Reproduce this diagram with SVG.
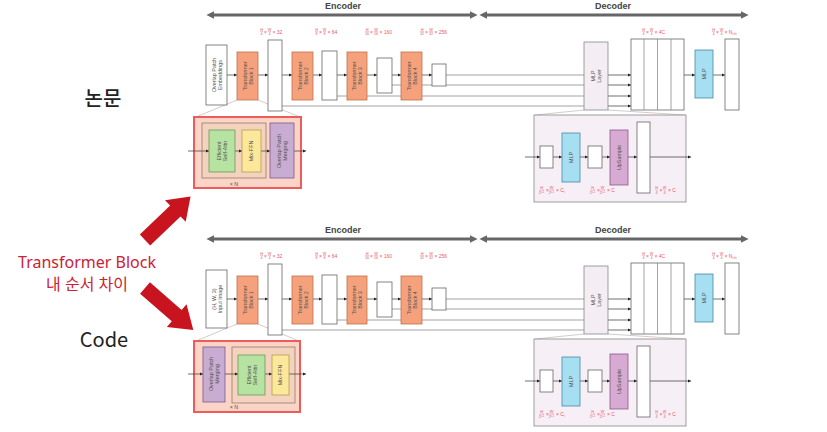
<svg xmlns="http://www.w3.org/2000/svg" width="827" height="432" viewBox="0 0 827 432">
<defs>
<style>
.bx{fill:#fff;stroke:#666;stroke-width:0.8}
.tb{fill:#f5a27c;stroke:#c0714c;stroke-width:0.8}
.ml{fill:#f4eef4;stroke:#888;stroke-width:0.8}
.mlp{fill:#a6def2;stroke:#4a8aa0;stroke-width:0.8}
.up{fill:#d6aad2;stroke:#8a5a8a;stroke-width:0.8}
.grn{fill:#b6e3a2;stroke:#6a9a5a;stroke-width:0.8}
.yel{fill:#fde79a;stroke:#b0a050;stroke-width:0.8}
.pur{fill:#c8acd2;stroke:#7a5a8a;stroke-width:0.8}
.inn{fill:#f3d3bd;stroke:#9a7a6a;stroke-width:0.8}
.red{fill:#fad4c6;stroke:#ef5a5a;stroke-width:2}
.dec{fill:#f7eff6;stroke:#888;stroke-width:0.8}
.t{font-family:"Liberation Sans",Arial,sans-serif;font-size:5.4px;fill:#555;text-anchor:middle}
.hd{font-family:"Liberation Sans",Arial,sans-serif;font-size:9px;font-weight:bold;fill:#444;text-anchor:middle}
.fr{font-family:"Liberation Sans",Arial,sans-serif;font-size:3.8px;fill:#e45a70;text-anchor:middle}
.lb{font-family:"Liberation Sans",Arial,sans-serif;font-size:5px;fill:#e45a70}
.fb{stroke:#e45a70;stroke-width:0.35}
.c{stroke:#333;stroke-width:0.7;fill:none;marker-end:url(#ah)}
.f{stroke:#8a8a8a;stroke-width:0.8;fill:none}
.z{stroke:#c4b4b4;stroke-width:0.7;fill:none}
.big{stroke:#666;stroke-width:3;fill:none;marker-start:url(#bg);marker-end:url(#bg)}
.side{font-family:"Noto Sans CJK KR","Noto Sans",sans-serif;fill:#222;text-anchor:middle}
.rt{font-family:"Noto Sans","Noto Sans CJK KR",sans-serif;fill:#cc2233;text-anchor:middle}
</style>
<marker id="ah" viewBox="0 0 6 6" refX="6" refY="3" markerWidth="3.5" markerHeight="3.5" markerUnits="userSpaceOnUse" orient="auto"><path d="M0,0L6,3L0,6z" fill="#222"/></marker>
<marker id="bg" viewBox="0 0 10 10" refX="3" refY="5" markerWidth="8" markerHeight="8" markerUnits="userSpaceOnUse" orient="auto-start-reverse"><path d="M0,0L10,5L0,10z" fill="#666"/></marker>
</defs>
<rect width="827" height="432" fill="#fff"/>

<!-- Left labels -->
<g id="label-paper"><text class="side" x="103" y="106" font-size="20" font-weight="500">논문</text></g>
<g id="label-code"><text class="side" x="104" y="347" font-size="20" font-family="Noto Sans">Code</text></g>
<g id="label-diff">
<text class="rt" x="87" y="268" font-size="16">Transformer Block</text>
<text class="rt" x="87" y="290" font-size="16">내 순서 차이</text>
</g>
<g id="red-arrows" fill="#c8141e">
<polygon transform="translate(145,240) rotate(-43.7)" points="0,-7.5 42,-7.5 42,-15 63,0 42,15 42,7.5 0,7.5"/>
<polygon transform="translate(145,288) rotate(41)" points="0,-7.5 42,-7.5 42,-15 64,0 42,15 42,7.5 0,7.5"/>
</g>

<!-- ================= TOP PANEL ================= -->
<g id="top">
<g id="top-headers">
<text class="hd" x="343" y="9">Encoder</text>
<line class="big" x1="212" y1="15" x2="472" y2="15"/>
<text class="hd" x="613" y="9">Decoder</text>
<line class="big" x1="485" y1="15" x2="743" y2="15"/>
</g>
<g id="top-dims">
<text class="fr" x="261.5" y="30.5">H</text><line class="fb" x1="260" y1="31.5" x2="263" y2="31.5"/><text class="fr" x="261.5" y="35.3">4</text>
<text class="lb" x="264" y="33.5">×</text>
<text class="fr" x="269.5" y="30.5">W</text><line class="fb" x1="268" y1="31.5" x2="271" y2="31.5"/><text class="fr" x="269.5" y="35.3">4</text>
<text class="lb" x="272.5" y="33.5">× 32</text>

<text class="fr" x="316.5" y="30.5">H</text><line class="fb" x1="315" y1="31.5" x2="318" y2="31.5"/><text class="fr" x="316.5" y="35.3">8</text>
<text class="lb" x="319" y="33.5">×</text>
<text class="fr" x="324.5" y="30.5">W</text><line class="fb" x1="323" y1="31.5" x2="326" y2="31.5"/><text class="fr" x="324.5" y="35.3">8</text>
<text class="lb" x="327.5" y="33.5">× 64</text>

<text class="fr" x="367" y="30.5">H</text><line class="fb" x1="365" y1="31.5" x2="369" y2="31.5"/><text class="fr" x="367" y="35.3">16</text>
<text class="lb" x="370" y="33.5">×</text>
<text class="fr" x="376" y="30.5">W</text><line class="fb" x1="374" y1="31.5" x2="378" y2="31.5"/><text class="fr" x="376" y="35.3">16</text>
<text class="lb" x="379.5" y="33.5">× 160</text>

<text class="fr" x="422" y="30.5">H</text><line class="fb" x1="420" y1="31.5" x2="424" y2="31.5"/><text class="fr" x="422" y="35.3">32</text>
<text class="lb" x="425" y="33.5">×</text>
<text class="fr" x="431" y="30.5">W</text><line class="fb" x1="429" y1="31.5" x2="433" y2="31.5"/><text class="fr" x="431" y="35.3">32</text>
<text class="lb" x="434.5" y="33.5">× 256</text>

<text class="fr" x="643.5" y="30.5">H</text><line class="fb" x1="642" y1="31.5" x2="645" y2="31.5"/><text class="fr" x="643.5" y="35.3">4</text>
<text class="lb" x="646" y="33.5">×</text>
<text class="fr" x="651.5" y="30.5">W</text><line class="fb" x1="650" y1="31.5" x2="653" y2="31.5"/><text class="fr" x="651.5" y="35.3">4</text>
<text class="lb" x="654.5" y="33.5">× 4C</text>

<text class="fr" x="713.5" y="30.5">H</text><line class="fb" x1="712" y1="31.5" x2="715" y2="31.5"/><text class="fr" x="713.5" y="35.3">4</text>
<text class="lb" x="716" y="33.5">×</text>
<text class="fr" x="721.5" y="30.5">W</text><line class="fb" x1="720" y1="31.5" x2="723" y2="31.5"/><text class="fr" x="721.5" y="35.3">4</text>
<text class="lb" x="724.5" y="33.5">× N<tspan font-size="3.5" dy="1">cls</tspan></text>
</g>

<g id="top-connectors">
<line class="f" x1="446" y1="75" x2="584" y2="75"/>
<line class="f" x1="392" y1="85" x2="584" y2="85"/>
<line class="f" x1="337" y1="96" x2="584" y2="96"/>
<line class="f" x1="282" y1="106" x2="584" y2="106"/>
<line class="c" x1="227" y1="75" x2="237" y2="75"/>
<line class="c" x1="258" y1="75" x2="268" y2="75"/>
<line class="c" x1="282" y1="75" x2="292" y2="75"/>
<line class="c" x1="313" y1="75" x2="322" y2="75"/>
<line class="c" x1="337" y1="75" x2="347" y2="75"/>
<line class="c" x1="367" y1="75" x2="377" y2="75"/>
<line class="c" x1="392" y1="75" x2="401" y2="75"/>
<line class="c" x1="422" y1="75" x2="432" y2="75"/>
<line class="c" x1="608" y1="75" x2="631" y2="75"/>
<line class="c" x1="608" y1="85" x2="631" y2="85"/>
<line class="c" x1="608" y1="96" x2="631" y2="96"/>
<line class="c" x1="608" y1="106" x2="631" y2="106"/>
<line class="c" x1="684" y1="75" x2="695" y2="75"/>
<line class="c" x1="713" y1="75" x2="725" y2="75"/>
<line class="z" x1="237" y1="100" x2="196" y2="117"/>
<line class="z" x1="258" y1="100" x2="300" y2="117"/>
<line class="z" x1="584" y1="110" x2="535" y2="115"/>
<line class="z" x1="608" y1="110" x2="685" y2="115"/>
</g>

<g id="top-ope"><rect class="bx" x="206" y="45" width="21" height="60"/><text class="t" transform="translate(216.5,75) rotate(-90)"><tspan x="0" dy="-0.8">Overlap Patch</tspan><tspan x="0" dy="6">Embeddings</tspan></text></g>
<g id="top-tb1"><rect class="tb" x="237" y="52" width="21" height="48"/><text class="t" transform="translate(247.5,76) rotate(-90)"><tspan x="0" dy="-0.8">Transformer</tspan><tspan x="0" dy="6">Block 1</tspan></text></g>
<g id="top-f1"><rect class="bx" x="268" y="40" width="14" height="71"/></g>
<g id="top-tb2"><rect class="tb" x="292" y="52" width="21" height="48"/><text class="t" transform="translate(302.5,76) rotate(-90)"><tspan x="0" dy="-0.8">Transformer</tspan><tspan x="0" dy="6">Block 2</tspan></text></g>
<g id="top-f2"><rect class="bx" x="322" y="51" width="15" height="49"/></g>
<g id="top-tb3"><rect class="tb" x="347" y="52" width="20" height="48"/><text class="t" transform="translate(357,76) rotate(-90)"><tspan x="0" dy="-0.8">Transformer</tspan><tspan x="0" dy="6">Block 3</tspan></text></g>
<g id="top-f3"><rect class="bx" x="377" y="58" width="15" height="35"/></g>
<g id="top-tb4"><rect class="tb" x="401" y="52" width="21" height="48"/><text class="t" transform="translate(411.5,76) rotate(-90)"><tspan x="0" dy="-0.8">Transformer</tspan><tspan x="0" dy="6">Block 4</tspan></text></g>
<g id="top-f4"><rect class="bx" x="432" y="64" width="14" height="22"/></g>
<g id="top-mlplayer"><rect class="ml" x="584" y="42" width="24" height="68"/><text class="t" transform="translate(596,76) rotate(-90)"><tspan x="0" dy="-0.8">MLP</tspan><tspan x="0" dy="6">Layer</tspan></text></g>
<g id="top-concat"><rect class="bx" x="631" y="39" width="53" height="71"/><line class="f" x1="644" y1="39" x2="644" y2="110"/><line class="f" x1="657.5" y1="39" x2="657.5" y2="110"/><line class="f" x1="671" y1="39" x2="671" y2="110"/></g>
<g id="top-mlp"><rect class="mlp" x="695" y="50" width="18" height="48"/><text class="t" transform="translate(704,74) rotate(-90)" dy="1.8">MLP</text></g>
<g id="top-out"><rect class="bx" x="725" y="39" width="14" height="71"/></g>

<g id="top-block-detail">
<rect class="red" x="194" y="117" width="107" height="71"/>
<rect class="inn" x="202" y="123" width="64" height="55"/>
<line class="c" x1="188" y1="151" x2="209" y2="151"/>
<line class="c" x1="235" y1="151" x2="242" y2="151"/>
<line class="c" x1="261" y1="151" x2="270" y2="151"/>
<line class="c" x1="294" y1="151" x2="306" y2="151"/>
<g id="top-esa"><rect class="grn" x="209" y="130" width="26" height="42"/><text class="t" transform="translate(222,151) rotate(-90)"><tspan x="0" dy="-0.8">Efficient</tspan><tspan x="0" dy="6">Self-Attn</tspan></text></g>
<g id="top-ffn"><rect class="yel" x="242" y="130" width="19" height="42"/><text class="t" transform="translate(251.5,151) rotate(-90)" dy="1.8">Mix-FFN</text></g>
<g id="top-opm"><rect class="pur" x="270" y="123" width="24" height="55"/><text class="t" transform="translate(282,151) rotate(-90)"><tspan x="0" dy="-0.8">Overlap Patch</tspan><tspan x="0" dy="6">Merging</tspan></text></g>
<text class="t" x="234" y="185.5">× N</text>
</g>

<g id="top-decoder-detail">
<rect class="dec" x="534" y="115" width="152" height="87"/>
<line class="c" x1="525" y1="157" x2="540" y2="157"/>
<line class="c" x1="553" y1="157" x2="562" y2="157"/>
<line class="c" x1="580" y1="157" x2="588" y2="157"/>
<line class="c" x1="602" y1="157" x2="610" y2="157"/>
<line class="c" x1="628" y1="157" x2="637" y2="157"/>
<line class="c" x1="650" y1="157" x2="691" y2="157"/>
<g id="top-d-in"><rect class="bx" x="540" y="146" width="13" height="22"/></g>
<g id="top-d-mlp"><rect class="mlp" x="562" y="133" width="18" height="49"/><text class="t" transform="translate(571,157.5) rotate(-90)" dy="1.8">MLP</text></g>
<g id="top-d-mid"><rect class="bx" x="588" y="146" width="14" height="22"/></g>
<g id="top-d-up"><rect class="up" x="610" y="130" width="18" height="55"/><text class="t" transform="translate(619,157.5) rotate(-90)" dy="1.8">UpSample</text></g>
<g id="top-d-out"><rect class="bx" x="637" y="122" width="13" height="71"/></g>
<g id="top-d-dims">
<text class="fr" x="541.5" y="189">H</text><line class="fb" x1="539" y1="190" x2="544" y2="190"/><text class="fr" x="541.5" y="194">2<tspan font-size="2.6" dy="-1">i+1</tspan></text>
<text class="lb" x="546" y="192">×</text>
<text class="fr" x="551.5" y="189">W</text><line class="fb" x1="549" y1="190" x2="554" y2="190"/><text class="fr" x="551.5" y="194">2<tspan font-size="2.6" dy="-1">i+1</tspan></text>
<text class="lb" x="556" y="192">× C<tspan font-size="3.5" dy="1">i</tspan></text>
<text class="fr" x="592.5" y="189">H</text><line class="fb" x1="590" y1="190" x2="595" y2="190"/><text class="fr" x="592.5" y="194">2<tspan font-size="2.6" dy="-1">i+1</tspan></text>
<text class="lb" x="597" y="192">×</text>
<text class="fr" x="602.5" y="189">W</text><line class="fb" x1="600" y1="190" x2="605" y2="190"/><text class="fr" x="602.5" y="194">2<tspan font-size="2.6" dy="-1">i+1</tspan></text>
<text class="lb" x="607" y="192">× C</text>
<text class="fr" x="656.5" y="189">H</text><line class="fb" x1="655" y1="190" x2="658" y2="190"/><text class="fr" x="656.5" y="194">4</text>
<text class="lb" x="659.5" y="192">×</text>
<text class="fr" x="664.5" y="189">W</text><line class="fb" x1="663" y1="190" x2="666" y2="190"/><text class="fr" x="664.5" y="194">4</text>
<text class="lb" x="668" y="192">× C</text>
</g>
</g>
</g>

<!-- ================= BOTTOM PANEL ================= -->
<g id="bottom" transform="translate(0,224)">
<g id="bot-headers">
<text class="hd" x="343" y="9">Encoder</text>
<line class="big" x1="212" y1="15" x2="472" y2="15"/>
<text class="hd" x="613" y="9">Decoder</text>
<line class="big" x1="485" y1="15" x2="743" y2="15"/>
</g>
<g id="bot-dims">
<text class="fr" x="261.5" y="30.5">H</text><line class="fb" x1="260" y1="31.5" x2="263" y2="31.5"/><text class="fr" x="261.5" y="35.3">4</text>
<text class="lb" x="264" y="33.5">×</text>
<text class="fr" x="269.5" y="30.5">W</text><line class="fb" x1="268" y1="31.5" x2="271" y2="31.5"/><text class="fr" x="269.5" y="35.3">4</text>
<text class="lb" x="272.5" y="33.5">× 32</text>

<text class="fr" x="316.5" y="30.5">H</text><line class="fb" x1="315" y1="31.5" x2="318" y2="31.5"/><text class="fr" x="316.5" y="35.3">8</text>
<text class="lb" x="319" y="33.5">×</text>
<text class="fr" x="324.5" y="30.5">W</text><line class="fb" x1="323" y1="31.5" x2="326" y2="31.5"/><text class="fr" x="324.5" y="35.3">8</text>
<text class="lb" x="327.5" y="33.5">× 64</text>

<text class="fr" x="367" y="30.5">H</text><line class="fb" x1="365" y1="31.5" x2="369" y2="31.5"/><text class="fr" x="367" y="35.3">16</text>
<text class="lb" x="370" y="33.5">×</text>
<text class="fr" x="376" y="30.5">W</text><line class="fb" x1="374" y1="31.5" x2="378" y2="31.5"/><text class="fr" x="376" y="35.3">16</text>
<text class="lb" x="379.5" y="33.5">× 160</text>

<text class="fr" x="422" y="30.5">H</text><line class="fb" x1="420" y1="31.5" x2="424" y2="31.5"/><text class="fr" x="422" y="35.3">32</text>
<text class="lb" x="425" y="33.5">×</text>
<text class="fr" x="431" y="30.5">W</text><line class="fb" x1="429" y1="31.5" x2="433" y2="31.5"/><text class="fr" x="431" y="35.3">32</text>
<text class="lb" x="434.5" y="33.5">× 256</text>

<text class="fr" x="643.5" y="30.5">H</text><line class="fb" x1="642" y1="31.5" x2="645" y2="31.5"/><text class="fr" x="643.5" y="35.3">4</text>
<text class="lb" x="646" y="33.5">×</text>
<text class="fr" x="651.5" y="30.5">W</text><line class="fb" x1="650" y1="31.5" x2="653" y2="31.5"/><text class="fr" x="651.5" y="35.3">4</text>
<text class="lb" x="654.5" y="33.5">× 4C</text>

<text class="fr" x="713.5" y="30.5">H</text><line class="fb" x1="712" y1="31.5" x2="715" y2="31.5"/><text class="fr" x="713.5" y="35.3">4</text>
<text class="lb" x="716" y="33.5">×</text>
<text class="fr" x="721.5" y="30.5">W</text><line class="fb" x1="720" y1="31.5" x2="723" y2="31.5"/><text class="fr" x="721.5" y="35.3">4</text>
<text class="lb" x="724.5" y="33.5">× N<tspan font-size="3.5" dy="1">cls</tspan></text>
</g>

<g id="bot-connectors">
<line class="f" x1="446" y1="75" x2="584" y2="75"/>
<line class="f" x1="392" y1="85" x2="584" y2="85"/>
<line class="f" x1="337" y1="96" x2="584" y2="96"/>
<line class="f" x1="282" y1="106" x2="584" y2="106"/>
<line class="c" x1="227" y1="75" x2="237" y2="75"/>
<line class="c" x1="258" y1="75" x2="268" y2="75"/>
<line class="c" x1="282" y1="75" x2="292" y2="75"/>
<line class="c" x1="313" y1="75" x2="322" y2="75"/>
<line class="c" x1="337" y1="75" x2="347" y2="75"/>
<line class="c" x1="367" y1="75" x2="377" y2="75"/>
<line class="c" x1="392" y1="75" x2="401" y2="75"/>
<line class="c" x1="422" y1="75" x2="432" y2="75"/>
<line class="c" x1="608" y1="75" x2="631" y2="75"/>
<line class="c" x1="608" y1="85" x2="631" y2="85"/>
<line class="c" x1="608" y1="96" x2="631" y2="96"/>
<line class="c" x1="608" y1="106" x2="631" y2="106"/>
<line class="c" x1="684" y1="75" x2="695" y2="75"/>
<line class="c" x1="713" y1="75" x2="725" y2="75"/>
<line class="z" x1="237" y1="100" x2="196" y2="117"/>
<line class="z" x1="258" y1="100" x2="299" y2="117"/>
<line class="z" x1="584" y1="110" x2="535" y2="115"/>
<line class="z" x1="608" y1="110" x2="685" y2="115"/>
</g>

<g id="bot-input"><rect class="bx" x="206" y="46" width="21" height="58"/><text class="t" transform="translate(216.5,75) rotate(-90)"><tspan x="0" dy="-0.8">(H, W, 3)</tspan><tspan x="0" dy="6">Input Image</tspan></text></g>
<g id="bot-tb1"><rect class="tb" x="237" y="52" width="21" height="48"/><text class="t" transform="translate(247.5,76) rotate(-90)"><tspan x="0" dy="-0.8">Transformer</tspan><tspan x="0" dy="6">Block 1</tspan></text></g>
<g id="bot-f1"><rect class="bx" x="268" y="40" width="14" height="71"/></g>
<g id="bot-tb2"><rect class="tb" x="292" y="52" width="21" height="48"/><text class="t" transform="translate(302.5,76) rotate(-90)"><tspan x="0" dy="-0.8">Transformer</tspan><tspan x="0" dy="6">Block 2</tspan></text></g>
<g id="bot-f2"><rect class="bx" x="322" y="51" width="15" height="49"/></g>
<g id="bot-tb3"><rect class="tb" x="347" y="52" width="20" height="48"/><text class="t" transform="translate(357,76) rotate(-90)"><tspan x="0" dy="-0.8">Transformer</tspan><tspan x="0" dy="6">Block 3</tspan></text></g>
<g id="bot-f3"><rect class="bx" x="377" y="58" width="15" height="35"/></g>
<g id="bot-tb4"><rect class="tb" x="401" y="52" width="21" height="48"/><text class="t" transform="translate(411.5,76) rotate(-90)"><tspan x="0" dy="-0.8">Transformer</tspan><tspan x="0" dy="6">Block 4</tspan></text></g>
<g id="bot-f4"><rect class="bx" x="432" y="64" width="14" height="22"/></g>
<g id="bot-mlplayer"><rect class="ml" x="584" y="42" width="24" height="68"/><text class="t" transform="translate(596,76) rotate(-90)"><tspan x="0" dy="-0.8">MLP</tspan><tspan x="0" dy="6">Layer</tspan></text></g>
<g id="bot-concat"><rect class="bx" x="631" y="39" width="53" height="71"/><line class="f" x1="644" y1="39" x2="644" y2="110"/><line class="f" x1="657.5" y1="39" x2="657.5" y2="110"/><line class="f" x1="671" y1="39" x2="671" y2="110"/></g>
<g id="bot-mlp"><rect class="mlp" x="695" y="50" width="18" height="48"/><text class="t" transform="translate(704,74) rotate(-90)" dy="1.8">MLP</text></g>
<g id="bot-out"><rect class="bx" x="725" y="39" width="14" height="71"/></g>

<g id="bot-block-detail">
<rect class="red" x="194" y="117" width="106" height="71"/>
<rect class="inn" x="232" y="123" width="63" height="56"/>
<line class="c" x1="188" y1="150" x2="203" y2="150"/>
<line class="c" x1="225" y1="150" x2="238" y2="150"/>
<line class="c" x1="265" y1="150" x2="272" y2="150"/>
<line class="c" x1="289" y1="150" x2="306" y2="150"/>
<g id="bot-opm"><rect class="pur" x="203" y="123" width="22" height="55"/><text class="t" transform="translate(214,150) rotate(-90)"><tspan x="0" dy="-0.8">Overlap Patch</tspan><tspan x="0" dy="6">Merging</tspan></text></g>
<g id="bot-esa"><rect class="grn" x="238" y="131" width="27" height="40"/><text class="t" transform="translate(251.5,151) rotate(-90)"><tspan x="0" dy="-0.8">Efficient</tspan><tspan x="0" dy="6">Self-Attn</tspan></text></g>
<g id="bot-ffn"><rect class="yel" x="272" y="131" width="17" height="40"/><text class="t" transform="translate(280.5,151) rotate(-90)" dy="1.8">Mix-FFN</text></g>
<text class="t" x="234" y="184.5">× N</text>
</g>

<g id="bot-decoder-detail">
<rect class="dec" x="534" y="115" width="152" height="87"/>
<line class="c" x1="525" y1="157" x2="540" y2="157"/>
<line class="c" x1="553" y1="157" x2="562" y2="157"/>
<line class="c" x1="580" y1="157" x2="588" y2="157"/>
<line class="c" x1="602" y1="157" x2="610" y2="157"/>
<line class="c" x1="628" y1="157" x2="637" y2="157"/>
<line class="c" x1="650" y1="157" x2="691" y2="157"/>
<g id="bot-d-in"><rect class="bx" x="540" y="146" width="13" height="22"/></g>
<g id="bot-d-mlp"><rect class="mlp" x="562" y="133" width="18" height="49"/><text class="t" transform="translate(571,157.5) rotate(-90)" dy="1.8">MLP</text></g>
<g id="bot-d-mid"><rect class="bx" x="588" y="146" width="14" height="22"/></g>
<g id="bot-d-up"><rect class="up" x="610" y="130" width="18" height="55"/><text class="t" transform="translate(619,157.5) rotate(-90)" dy="1.8">UpSample</text></g>
<g id="bot-d-out"><rect class="bx" x="637" y="122" width="13" height="71"/></g>
<g id="bot-d-dims">
<text class="fr" x="541.5" y="189">H</text><line class="fb" x1="539" y1="190" x2="544" y2="190"/><text class="fr" x="541.5" y="194">2<tspan font-size="2.6" dy="-1">i+1</tspan></text>
<text class="lb" x="546" y="192">×</text>
<text class="fr" x="551.5" y="189">W</text><line class="fb" x1="549" y1="190" x2="554" y2="190"/><text class="fr" x="551.5" y="194">2<tspan font-size="2.6" dy="-1">i+1</tspan></text>
<text class="lb" x="556" y="192">× C<tspan font-size="3.5" dy="1">i</tspan></text>
<text class="fr" x="592.5" y="189">H</text><line class="fb" x1="590" y1="190" x2="595" y2="190"/><text class="fr" x="592.5" y="194">2<tspan font-size="2.6" dy="-1">i+1</tspan></text>
<text class="lb" x="597" y="192">×</text>
<text class="fr" x="602.5" y="189">W</text><line class="fb" x1="600" y1="190" x2="605" y2="190"/><text class="fr" x="602.5" y="194">2<tspan font-size="2.6" dy="-1">i+1</tspan></text>
<text class="lb" x="607" y="192">× C</text>
<text class="fr" x="656.5" y="189">H</text><line class="fb" x1="655" y1="190" x2="658" y2="190"/><text class="fr" x="656.5" y="194">4</text>
<text class="lb" x="659.5" y="192">×</text>
<text class="fr" x="664.5" y="189">W</text><line class="fb" x1="663" y1="190" x2="666" y2="190"/><text class="fr" x="664.5" y="194">4</text>
<text class="lb" x="668" y="192">× C</text>
</g>
</g>
</g>
</svg>
